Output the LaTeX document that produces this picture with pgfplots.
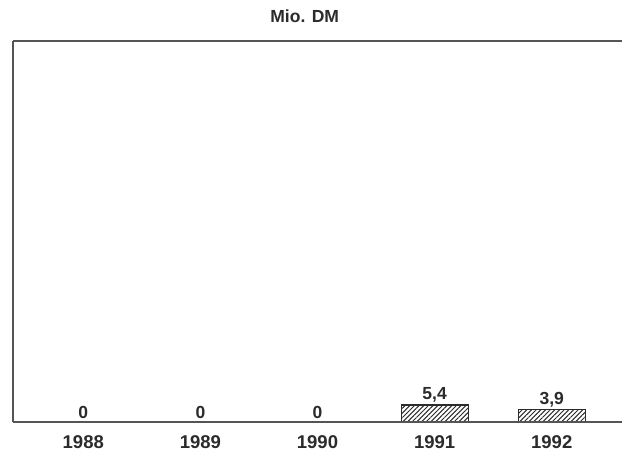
\documentclass[border=0pt]{standalone}
\usepackage{pgfplots}
\pgfplotsset{compat=1.18}
\usepackage{fontspec}
\setmainfont{Liberation Sans}
\usetikzlibrary{patterns.meta}
\definecolor{ink}{HTML}{2B2B2B}
\definecolor{frame}{HTML}{555555}

\pgfplotstableread{
pos value
0 0
1 0
2 0
3 5.4
4 3.9
}\funding

\begin{document}
\begin{tikzpicture}
\useasboundingbox (-13pt,-34pt) rectangle (609pt,422pt);
\begin{axis}[
  scale only axis,
  width=609pt, height=381pt,
  xmin=-0.6, xmax=4.6,
  ymin=0, ymax=121,
  axis on top,
  axis x line*=bottom,
  axis y line*=left,
  axis line style={frame, line width=1.6pt, -},
  xtick=data,
  xticklabels={1988,1989,1990,1991,1992},
  xtick style={draw=none},
  ytick=\empty,
  xticklabel style={font=\fontsize{18.5}{21}\selectfont\bfseries, text=ink, yshift=-6pt},
  ybar, bar width=67pt,
  nodes near coords,
  every node near coord/.append style={font=\fontsize{17.5}{20}\selectfont\bfseries, text=ink, yshift=-1pt},
  /pgf/number format/.cd, use comma, fixed, precision=1, assume math mode=true,
  /pgfplots/.cd,
  clip=false,
]
\addplot[draw=ink, line width=1.1pt,
  pattern={Lines[angle=45, distance=3.3pt, line width=1pt]}, pattern color=ink]
  table[x=pos, y=value] {\funding};
\draw[frame, line width=1.6pt] (rel axis cs:0,1) -- (rel axis cs:1,1);
\node[font=\fontsize{17.5}{20}\selectfont\bfseries, text=ink] at (rel axis cs:0.479,1) [yshift=25pt] {Mio. DM};
\end{axis}
\end{tikzpicture}
\end{document}
